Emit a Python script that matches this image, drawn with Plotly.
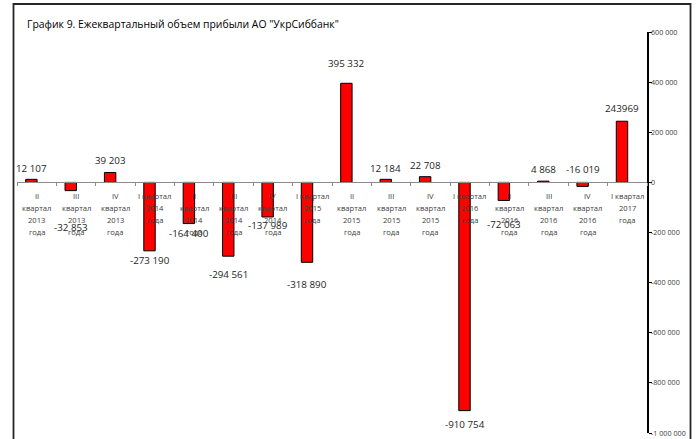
import plotly.graph_objects as go

# ---- data ----
quarters = ["II", "III", "IV", "I", "II", "III", "IV", "I", "II", "III", "IV", "I", "II", "III", "IV", "I"]
years = ["2013", "2013", "2013", "2014", "2014", "2014", "2014", "2015", "2015", "2015", "2015",
         "2016", "2016", "2016", "2016", "2017"]
profit = [12107, -32853, 39203, -273190, -164400, -294561, -137989, -318890,
          395332, 12184, 22708, -910754, -72063, 4868, -16019, 243969]
value_labels = ["12 107", "-32 853", "39 203", "-273 190", "-164 400", "-294 561", "-137 989", "-318 890",
                "395 332", "12 184", "22 708", "-910 754", "-72 063", "4 868", "-16 019", "243969"]
y_tick_vals = [600000, 400000, 200000, 0, -200000, -400000, -600000, -800000, -1000000]
y_tick_text = ["600 000", "400 000", "200 000", "0", "-200 000", "-400 000", "-600 000", "-800 000", "-1 000 000"]
title_text = 'График 9. Ежеквартальный объем прибыли АО "УкрСиббанк"'

# ---- style (label distances from bar end, px) ----
label_gap = [11, 37, 12, 10, 10, 18, 8.5, 22, 19.5, 11, 11, 14, 24.5, 11.5, -16.5, 12.5]

FONT = "Open Sans"
W, H = 697, 439
ML, MR, MT, MB = 17, 50, 32, 6
BAR_W = 0.29
BAR_OFF = -0.28
BAR_C = BAR_OFF + BAR_W / 2

idx = list(range(len(profit)))
cat_lines = []
for q, y in zip(quarters, years):
    if q == "I":
        cat_lines.append(["I квартал", y, "года"])
    else:
        cat_lines.append([q, "квартал", y, "года"])

fig = go.Figure()
fig.add_trace(go.Bar(
    x=idx, y=profit, width=BAR_W, offset=BAR_OFF,
    marker=dict(color="#FF0000", line=dict(color="#000000", width=1)),
    hoverinfo="skip",
))

annotations = []
# value labels
for i, (v, t, g) in enumerate(zip(profit, value_labels, label_gap)):
    sign = 1 if v >= 0 else -1
    annotations.append(dict(
        x=i + BAR_C, y=v, xref="x", yref="y", text=t, showarrow=False,
        xanchor="center", yanchor="middle", yshift=sign * g,
        font=dict(family=FONT, size=9.8, color="#1e1e1e"),
    ))
# category labels (one annotation per line)
for i, lines in enumerate(cat_lines):
    for k, line in enumerate(lines):
        annotations.append(dict(
            x=i, y=0, xref="x", yref="y", text=line, showarrow=False,
            xanchor="center", yanchor="middle", yshift=-14 - 12 * k,
            font=dict(family=FONT, size=7.6, color="#404040"),
        ))
pw = W - ML - MR
ph = H - MT - MB
# title
annotations.append(dict(
    x=(25 - ML) / pw, y=(H - MB - 24) / ph, xref="paper", yref="paper",
    text=title_text, showarrow=False, xanchor="left", yanchor="middle",
    font=dict(family=FONT, size=10.4, color="#000000"),
))

shapes = [dict(
    type="rect", xref="paper", yref="paper",
    x0=(13.5 - ML) / pw, x1=(690.5 - ML) / pw,
    y0=(H - MB - 450) / ph, y1=(H - MB - 4) / ph,
    line=dict(color="#262626", width=1.8), fillcolor="rgba(0,0,0,0)",
)]

ymin, ymax = -1000000, 600000
fig.update_layout(
    width=W, height=H,
    margin=dict(l=ML, r=MR, t=MT, b=MB, autoexpand=False),
    paper_bgcolor="white", plot_bgcolor="white",
    showlegend=False,
    hovermode=False,
    annotations=annotations,
    shapes=shapes,
    xaxis=dict(
        type="linear", range=[-0.5, len(profit) - 0.5],
        anchor="free", position=(0 - ymin) / (ymax - ymin),
        showline=True, linecolor="#8c8c8c", linewidth=1,
        ticks="outside", ticklen=3, tickcolor="#8c8c8c",
        tickvals=[i - 0.5 for i in range(len(profit) + 1)],
        showticklabels=False, showgrid=False, zeroline=False,
        layer="above traces", automargin=False,
    ),
    yaxis=dict(
        range=[ymin, ymax], side="right",
        showline=True, linecolor="#000000", linewidth=1.5,
        ticks="outside", ticklen=3, tickcolor="#000000",
        tickvals=y_tick_vals, ticktext=y_tick_text,
        tickfont=dict(family=FONT, size=7.2, color="#404040"),
        ticklabelstandoff=-2,
        showgrid=False, zeroline=False, automargin=False,
    ),
)

fig.write_html(
    "out.html",
    config={"displayModeBar": False, "staticPlot": True},
    post_script="document.body.style.margin='0';document.body.style.overflow='hidden';",
)
